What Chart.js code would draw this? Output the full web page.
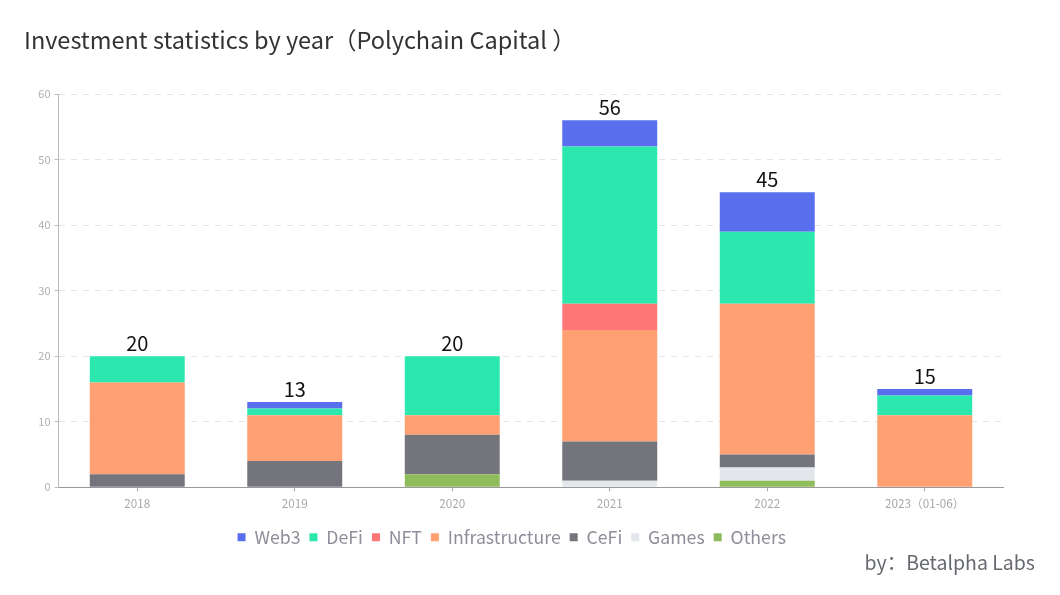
<!DOCTYPE html>
<html>
<head>
<meta charset="utf-8">
<title>Investment statistics by year</title>
<script src="https://cdn.jsdelivr.net/npm/chart.js@4/dist/chart.umd.min.js"></script>
<style>
  html, body { margin: 0; padding: 0; background: #fff; }
  #wrap { position: relative; width: 1060px; height: 595px; }
  #titulo {
    position: absolute; left: 24px; top: 22px;
    font: 23.5px "Noto Sans CJK SC", "Noto Sans", sans-serif;
    color: #333; white-space: nowrap;
  }
  #credit {
    position: absolute; right: 25px; top: 547px;
    font: 19.5px "Noto Sans CJK SC", "Noto Sans", sans-serif;
    color: #666a70;
  }
</style>
</head>
<body>
<div id="wrap">
  <canvas id="grafico" width="1060" height="595"></canvas>
  <div id="titulo">Investment statistics by year（Polychain Capital ）</div>
  <div id="credit">by：Betalpha Labs</div>
</div>
<script>
var fonte = '"Noto Sans CJK SC", "Noto Sans", sans-serif';

var years = ["2018", "2019", "2020", "2021", "2022", "2023（01-06）"];
var yTicks = [0, 10, 20, 30, 40, 50, 60];

// stacked from the bottom up
var others = [0, 0, 2, 0, 1, 0];
var games = [0, 0, 0, 1, 2, 0];
var cefi = [2, 4, 6, 6, 2, 0];
var infrastructure = [14, 7, 3, 17, 23, 11];
var nft = [0, 0, 0, 4, 0, 0];
var defi = [4, 1, 9, 24, 11, 3];
var web3 = [0, 1, 0, 4, 6, 1];

function serie(nome, valores, cor) {
  return {
    label: nome,
    data: valores,
    backgroundColor: cor,
    borderWidth: 0,
    barPercentage: 1,
    categoryPercentage: 0.603
  };
}

// total above each column
var totais = {
  id: "totais",
  afterDatasetsDraw: function (chart) {
    var ctx = chart.ctx;
    var x = chart.scales.x;
    var y = chart.scales.y;
    ctx.save();
    ctx.font = "20px " + fonte;
    ctx.fillStyle = "#111";
    ctx.textAlign = "center";
    ctx.textBaseline = "bottom";
    years.forEach(function (ano, i) {
      var soma = 0;
      chart.data.datasets.forEach(function (d) { soma += d.data[i]; });
      ctx.fillText(soma, x.getPixelForValue(i), y.getPixelForValue(soma) - 3);
    });
    ctx.restore();
  }
};

new Chart(document.getElementById("grafico"), {
  type: "bar",
  data: {
    labels: years,
    datasets: [
      serie("Others", others, "#8fbc5a"),
      serie("Games", games, "#e3e6ea"),
      serie("CeFi", cefi, "#74757c"),
      serie("Infrastructure", infrastructure, "#ffa072"),
      serie("NFT", nft, "#ff7676"),
      serie("DeFi", defi, "#2de8ae"),
      serie("Web3", web3, "#5a6fee")
    ]
  },
  plugins: [totais],
  options: {
    responsive: false,
    animation: false,
    layout: { padding: { left: 20, right: 56.5, top: 94, bottom: 39 } },
    plugins: {
      tooltip: { enabled: false },
      title: { display: false },
      legend: {
        position: "bottom",
        reverse: true,
        labels: {
          boxWidth: 8,
          boxHeight: 8,
          padding: 9,
          color: "#8d8e99",
          font: { family: fonte, size: 17.7 }
        }
      }
    },
    scales: {
      x: {
        stacked: true,
        afterFit: function (axis) { axis.height += 4; },
        border: { color: "#999" },
        grid: { offset: false, drawOnChartArea: false, drawTicks: true, tickLength: 4, color: "#aaa" },
        ticks: { color: "#a8a8a8", font: { family: fonte, size: 11.7 }, padding: 5, maxRotation: 0 }
      },
      y: {
        stacked: true,
        min: 0,
        max: 60,
        afterBuildTicks: function (axis) {
          axis.ticks = yTicks.map(function (v) { return { value: v }; });
        },
        afterFit: function (axis) { axis.width = 38.5; },
        border: { color: "#bbb", dash: [6, 6] },
        grid: { color: "#e4e4e4", tickColor: "#bbb", tickLength: 4, tickBorderDash: [] },
        ticks: { color: "#b0b0b0", font: { family: fonte, size: 11 }, padding: 4 }
      }
    }
  }
});
</script>
</body>
</html>
